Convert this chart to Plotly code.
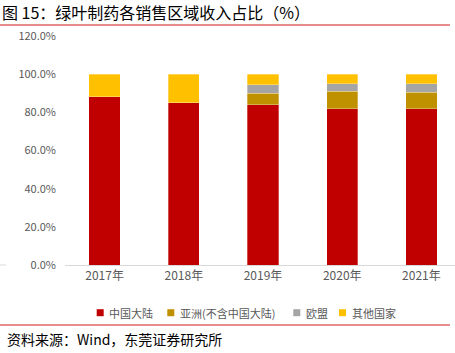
import plotly.graph_objects as go

years = ["2017年", "2018年", "2019年", "2020年", "2021年"]
mainland = [0.882, 0.851, 0.840, 0.818, 0.818]
asia = [0.0, 0.0, 0.060, 0.093, 0.087]
eu = [0.0, 0.0, 0.045, 0.039, 0.045]
other = [0.118, 0.149, 0.055, 0.050, 0.050]

names = ["中国大陆", "亚洲(不含中国大陆)", "欧盟", "其他国家"]
colors = ["#C00000", "#BF9000", "#A5A5A5", "#FFC000"]
series = [mainland, asia, eu, other]

FONT = "Noto Sans CJK SC"
L, T, B, W, H = 65, 36, 88, 455, 353
PW, PH = W - L, H - T - B


def px(x):
    return (x - L) / PW


def py(y):
    return (H - B - y) / PH


fig = go.Figure()
for n, c, v in zip(names, colors, series):
    fig.add_trace(go.Bar(x=list(range(len(years))), y=v, name=n,
                         marker=dict(color=c, line=dict(color="rgba(255,255,255,0.6)", width=0.5)),
                         width=0.396))

fig.update_layout(
    barmode="stack",
    width=W, height=H,
    margin=dict(l=L, r=0, t=T, b=B),
    paper_bgcolor="white", plot_bgcolor="white",
    font=dict(family=FONT, size=11, color="#595959"),
    showlegend=False,
    xaxis=dict(tickmode="array", tickvals=list(range(len(years))), ticktext=years,
               range=[-0.5, 4.424], showline=True, linecolor="#D9D9D9", linewidth=1,
               ticks="", showgrid=False, zeroline=False,
               tickfont=dict(size=12, color="#595959")),
    yaxis=dict(range=[0, 1.2], tickvals=[0, 0.2, 0.4, 0.6, 0.8, 1.0, 1.2], tickformat=".1%",
               showgrid=False, zeroline=False, showline=False, ticks="",
               ticklabelstandoff=8, tickfont=dict(size=11, color="#595959")),
)

# manual legend
leg_sq_x = [96.7, 167.3, 293.3, 339.0]
leg_y = 312.7
for n, c, sx in zip(names, colors, leg_sq_x):
    fig.add_shape(type="rect", xref="paper", yref="paper", x0=px(sx), x1=px(sx + 7),
                  y0=py(leg_y + 3.5), y1=py(leg_y - 3.5), fillcolor=c, line=dict(width=0))
    fig.add_annotation(text=n, xref="paper", yref="paper", x=px(sx + 10.5), y=py(leg_y),
                       xanchor="left", yanchor="middle", showarrow=False,
                       font=dict(family=FONT, size=11, color="#595959"))

fig.add_annotation(text="图 15：绿叶制药各销售区域收入占比（%）", xref="paper", yref="paper",
                   x=px(0), y=py(12), xanchor="left", yanchor="middle", showarrow=False,
                   font=dict(family=FONT, size=16, color="#000000"))
fig.add_annotation(text="资料来源：Wind，东莞证券研究所", xref="paper", yref="paper",
                   x=px(5), y=py(339), xanchor="left", yanchor="middle", showarrow=False,
                   font=dict(family=FONT, size=14, color="#000000"))
for ly in (25, 325):
    fig.add_shape(type="line", xref="paper", yref="paper", x0=px(0), x1=px(450),
                  y0=py(ly), y1=py(ly), line=dict(color="#E06666", width=1.5))
fig.add_shape(type="line", xref="paper", yref="paper", x0=px(0), x1=px(6),
              y0=0, y1=0, line=dict(color="#D9D9D9", width=1))

fig.write_html("out.html")
